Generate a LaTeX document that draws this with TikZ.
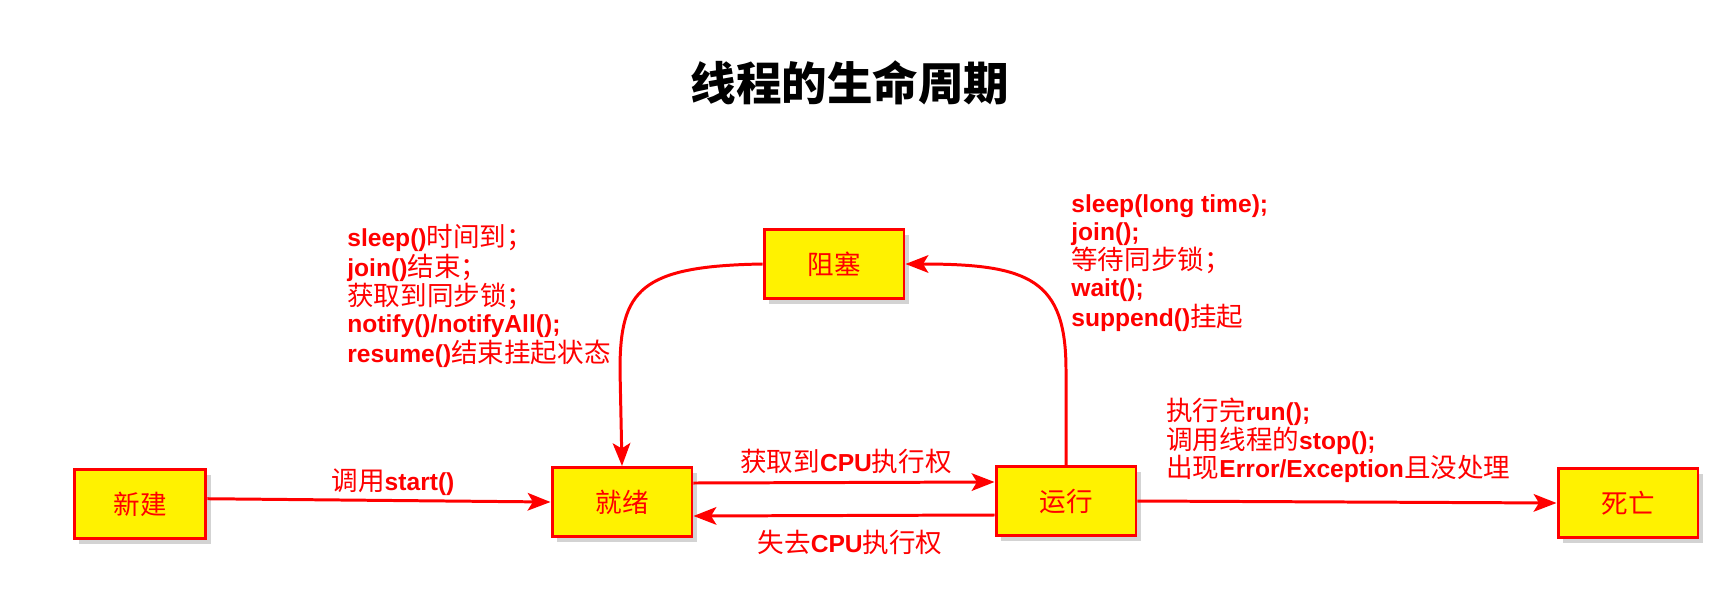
\documentclass[tikz,border=0pt]{standalone}
\usepackage{fontspec}
\setmainfont{Liberation Sans}
\newfontfamily\cjk[Scale=1.08]{Noto Sans CJK SC}
\usetikzlibrary{arrows.meta,shadows}

\newcommand{\zh}[1]{{\cjk #1}}
\newcommand{\en}[1]{\textbf{#1}}

\tikzset{
  state/.style={draw=red,fill=yellow,line width=1.7pt,minimum width=2.8cm,
    minimum height=1.38cm,text=red,font=\cjk\fontsize{14}{17}\selectfont,
    drop shadow={opacity=0.35,shadow xshift=3pt,shadow yshift=-3pt}},
  flow/.style={draw=red,line width=1.7pt,-{Stealth[length=13pt,width=10pt,inset=3pt]}},
  note/.style={text=red,inner sep=0pt,align=left,font=\fontsize{14}{15.6}\selectfont},
}

\begin{document}
\begin{tikzpicture}[x=0.02cm,y=-0.02cm]
\useasboundingbox (0,0) rectangle (1731,595);
\node[font=\cjk\bfseries\fontsize{24}{29}\selectfont] (title) at (850,83) {线程的生命周期};

\node[state,minimum width=2.64cm] (xinjian) at (140,504) {新建};
\node[state] (jiuxu) at (622,502) {就绪};
\node[state] (yunxing) at (1066,501) {运行};
\node[state] (siwang) at (1628,503) {死亡};
\node[state] (zuse) at (834,264) {阻塞};

\draw[flow] ([yshift=3pt]xinjian.east) -- (jiuxu.west);
\draw[flow] ([yshift=0.38cm]jiuxu.east) -- ([yshift=0.38cm]yunxing.west);
\draw[flow] ([yshift=-0.28cm]yunxing.west) -- ([yshift=-0.28cm]jiuxu.east);
\draw[flow] (yunxing.east) -- (siwang.west);
\draw[flow] (yunxing.north) -- (1066,370) .. controls (1066,280) and (1030,264) .. (zuse.east);
\draw[flow] (zuse.west) .. controls (640,266) and (620,290) .. (620,370) -- (jiuxu.north);

\node[note] (start) at (393,482) {\zh{调用}\en{start()}};
\node[note] (getcpu) at (846,461) {\zh{获取到}\en{CPU}\zh{执行权}};
\node[note] (losecpu) at (850,542) {\zh{失去}\en{CPU}\zh{执行权}};
\node[note,anchor=west] (wakeup) at (347,296) {\en{sleep()}\zh{时间到；}\\
  \en{join()}\zh{结束；}\\
  \zh{获取到同步锁；}\\
  \en{notify()/notifyAll();}\\
  \en{resume()}\zh{结束挂起状态}};
\node[note,anchor=west] (block) at (1071,263) {\en{sleep(long time);}\\
  \en{join();}\\
  \zh{等待同步锁；}\\
  \en{wait();}\\
  \en{suppend()}\zh{挂起}};
\node[note,anchor=west] (finish) at (1166,440) {\zh{执行完}\en{run();}\\
  \zh{调用线程的}\en{stop();}\\
  \zh{出现}\en{Error/Exception}\zh{且没处理}};
\end{tikzpicture}
\end{document}
